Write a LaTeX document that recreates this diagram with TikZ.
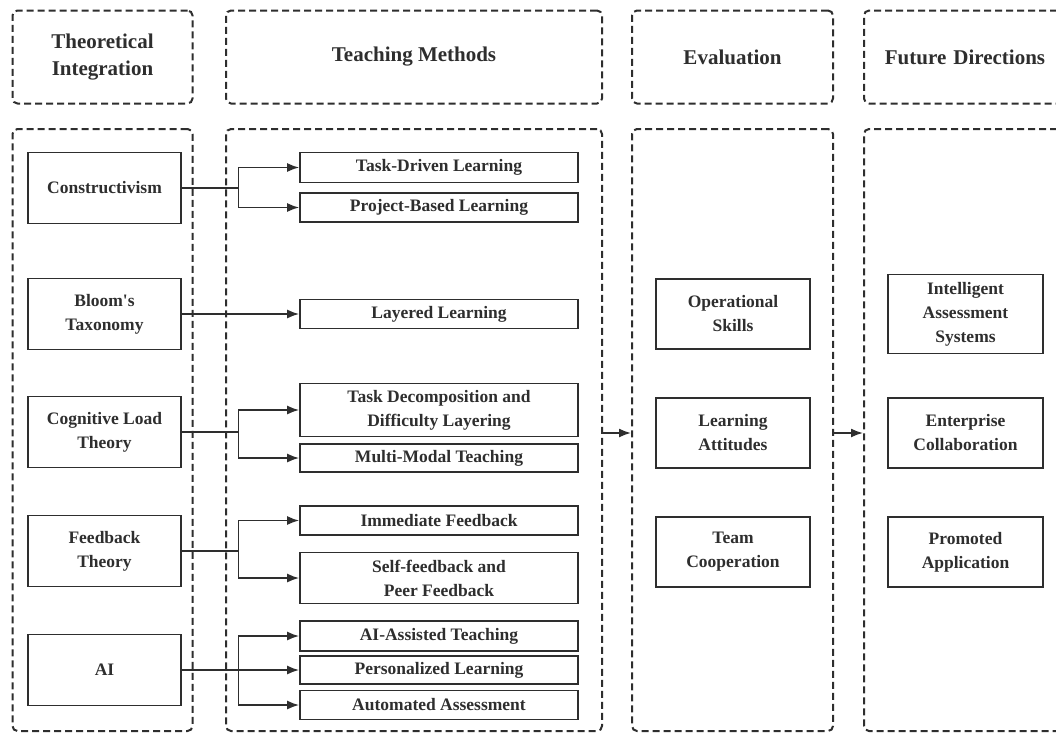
\documentclass[tikz,border=0pt]{standalone}
\usepackage{fontspec}
\setmainfont{Liberation Serif}
\usetikzlibrary{arrows.meta}
\definecolor{ink}{HTML}{2E2E2E}
\begin{document}
\begin{tikzpicture}[x=1pt,y=-1pt,
  col/.style={draw=ink, line width=2pt, dash pattern=on 7pt off 4pt, rounded corners=5pt, inner sep=0pt},
  hdr/.style={col, font=\bfseries\fontsize{21}{27}\selectfont, align=center, text=ink},
  box/.style={draw=ink, line width=1.7pt, inner sep=0pt, align=center, font=\bfseries\fontsize{17.5}{24}\selectfont, text=ink},
  tbox/.style={box, minimum width=153pt, minimum height=71pt},
  mbox/.style={box, minimum width=278pt},
  ebox/.style={box, minimum width=154pt, minimum height=70pt},
  fbox/.style={box, minimum width=155pt},
  arr/.style={draw=ink, line width=1.7pt, -{Latex[length=12pt,width=9pt]}}]
\fill[white] (0,0) rectangle (1056,734);
\useasboundingbox (0,0) rectangle (1056,734);

% headers
\node[hdr, minimum width=180pt, minimum height=93pt] (h1) at (102.5,57) {Theoretical\\Integration};
\node[hdr, minimum width=376pt, minimum height=93pt] (h2) at (414,57) {Teaching Methods};
\node[hdr, minimum width=201pt, minimum height=93pt] (h3) at (732.5,57) {Evaluation};
\node[hdr, minimum width=220pt, minimum height=93pt, text width=190pt] (h4) at (974,57) {\hspace*{-18pt}Future Directions};

% columns
\node[col, minimum width=180pt, minimum height=602pt] (c1) at (102.5,430) {};
\node[col, minimum width=376pt, minimum height=602pt] (c2) at (414,430) {};
\node[col, minimum width=201pt, minimum height=602pt] (c3) at (732.5,430) {};
\node[col, minimum width=220pt, minimum height=602pt] (c4) at (974,430) {};

% theory boxes
\node[tbox] (t1) at (104.5,188) {Constructivism};
\node[tbox] (t2) at (104.5,314) {Bloom\textquotesingle s\\Taxonomy};
\node[tbox] (t3) at (104.5,432) {Cognitive Load\\Theory};
\node[tbox] (t4) at (104.5,551) {Feedback\\Theory};
\node[tbox] (t5) at (104.5,670) {AI};

% teaching method boxes
\node[mbox, minimum height=30pt] (m1) at (439,167.5) {Task-Driven Learning};
\node[mbox, minimum height=29pt] (m2) at (439,207.5) {Project-Based Learning};
\node[mbox, minimum height=29pt] (m3) at (439,314) {Layered Learning};
\node[mbox, minimum height=53pt] (m4) at (439,410) {Task Decomposition and\\Difficulty Layering};
\node[mbox, minimum height=28.5pt] (m5) at (439,458) {Multi-Modal Teaching};
\node[mbox, minimum height=29.5pt] (m6) at (439,520.5) {Immediate Feedback};
\node[mbox, minimum height=51pt] (m7) at (439,578) {Self-feedback and\\Peer Feedback};
\node[mbox, minimum height=29.5pt] (m8) at (439,636) {AI-Assisted Teaching};
\node[mbox, minimum height=28pt] (m9) at (439,670) {Personalized Learning};
\node[mbox, minimum height=29pt] (m10) at (439,705) {Automated Assessment};

% evaluation boxes
\node[ebox] (e1) at (733,314) {Operational\\Skills};
\node[ebox] (e2) at (733,433) {Learning\\Attitudes};
\node[ebox] (e3) at (733,552) {Team\\Cooperation};

% future boxes
\node[fbox, minimum height=79pt] (f1) at (965.5,314) {Intelligent\\Assessment\\Systems};
\node[fbox, minimum height=70pt] (f2) at (965.5,433) {Enterprise\\Collaboration};
\node[fbox, minimum height=70pt] (f3) at (965.5,552) {Promoted\\Application};

% branch x
\coordinate (bx) at (238.5,0);

% connectors
\draw[arr] (t1.east) -- (t1.east -| bx) |- (m1.west);
\draw[arr] (t1.east) -- (t1.east -| bx) |- (m2.west);

\draw[arr] (t2.east) -- (m3.west);

\draw[arr] (t3.east) -- (t3.east -| bx) |- (m4.west);
\draw[arr] (t3.east) -- (t3.east -| bx) |- (m5.west);

\draw[arr] (t4.east) -- (t4.east -| bx) |- (m6.west);
\draw[arr] (t4.east) -- (t4.east -| bx) |- (m7.west);

\draw[arr] (t5.east) -- (t5.east -| bx) |- (m8.west);
\draw[arr] (t5.east) -- (m9.west);
\draw[arr] (t5.east) -- (t5.east -| bx) |- (m10.west);

\draw[arr] (e2 -| c2.east) -- (e2 -| c3.west);
\draw[arr] (e2 -| c3.east) -- (e2 -| c4.west);
\end{tikzpicture}
\end{document}
